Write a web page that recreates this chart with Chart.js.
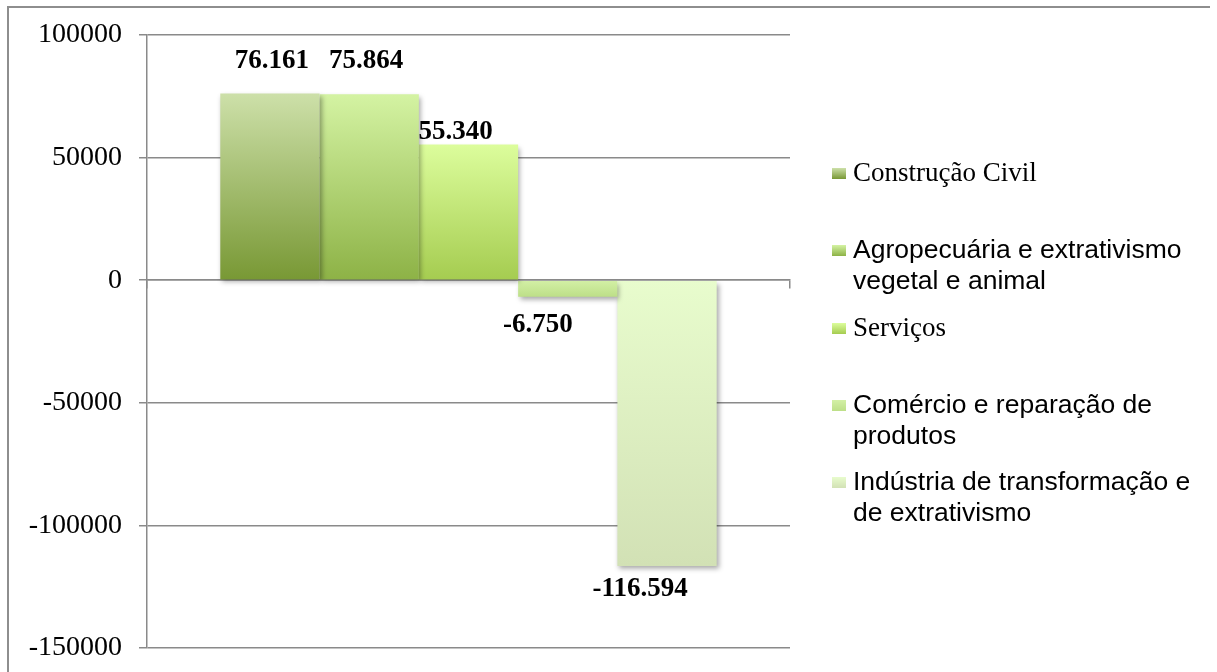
<!DOCTYPE html>
<html lang="pt-BR">
<head>
<meta charset="utf-8">
<title>Saldo de empregos por setor</title>
<script src="https://cdn.jsdelivr.net/npm/chart.js@4.4.1/dist/chart.umd.min.js"></script>
<style>
    html, body { margin: 0; padding: 0; background: #fff; overflow: hidden; }
    #wrap { position: relative; width: 1217px; height: 672px; overflow: hidden; }
    .frame-line { position: absolute; background: #8e8e8e; pointer-events: none; }
    #frame-top { left: 7px; top: 6px; width: 1203px; height: 2px; }
    #frame-left { left: 7px; top: 6px; width: 2px; height: 666px; }
    #chart { position: absolute; left: 0; top: 0; }
    #legend { position: absolute; left: 0; top: 0; }
    .legend-item { position: absolute; left: 832px; width: 360px; line-height: 31px; color: #000; }
    .legend-box { position: absolute; left: 0; top: 11px; width: 14px; height: 11px; }
    .legend-text { margin-left: 21px; }
</style>
</head>
<body>
<div id="wrap">
    <canvas id="chart" width="1217" height="672"></canvas>
    <div id="legend"></div>
    <div class="frame-line" id="frame-top"></div>
    <div class="frame-line" id="frame-left"></div>
</div>
<script>
// Saldo de empregos por setor de atividade
const categories = [''];
const seriesNames = [
    'Construção Civil',
    'Agropecuária e extrativismo vegetal e animal',
    'Serviços',
    'Comércio e reparação de produtos',
    'Indústria de transformação e de extrativismo'
];
const seriesValues = [76161, 75864, 55340, -6750, -116594];
const yMin = -150000;
const yMax = 100000;
const yStep = 50000;

// gradient colours per series (top, bottom)
const colorTop = ['#cde0a9', '#d4f3a3', '#dcfd9c', '#d3f0a6', '#e8fccd'];
const colorBottom = ['#789834', '#8db246', '#a5cc50', '#bddf88', '#d2e1b5'];
// legend fonts per series
const legendFonts = [
    '27px "Liberation Serif", serif',
    '26.5px "Liberation Sans", Arial, sans-serif',
    '27px "Liberation Serif", serif',
    '26.5px "Liberation Sans", Arial, sans-serif',
    '26.5px "Liberation Sans", Arial, sans-serif'
];
// value label nudges relative to the bar end (dx, dy)
const labelNudge = [[2, -32], [-3, -33], [-13, -12], [-30, 28], [-27, 23]];

const gridColor = '#8a8a8a';

function formatValue(v) {
    const s = Math.abs(v).toString().replace(/\B(?=(\d{3})+(?!\d))/g, '.');
    return (v < 0 ? '-' : '') + s;
}

function barGradient(i) {
    return (ctx) => {
        const chart = ctx.chart;
        if (!chart.chartArea) return colorTop[i];
        const y = chart.scales.y;
        const yEnd = y.getPixelForValue(seriesValues[i]);
        const y0 = y.getPixelForValue(0);
        const g = chart.ctx.createLinearGradient(0, Math.min(yEnd, y0), 0, Math.max(yEnd, y0));
        g.addColorStop(0, colorTop[i]);
        g.addColorStop(1, colorBottom[i]);
        return g;
    };
}

// soft drop shadow under the bars
const barShadow = {
    id: 'barShadow',
    beforeDatasetsDraw(chart) {
        const c = chart.ctx;
        c.save();
        c.shadowColor = 'rgba(0, 0, 0, 0.35)';
        c.shadowBlur = 5;
        c.shadowOffsetX = 2;
        c.shadowOffsetY = 3;
    },
    afterDatasetsDraw(chart) {
        chart.ctx.restore();
    }
};

// bold value labels near each bar
const valueLabels = {
    id: 'valueLabels',
    afterDraw(chart) {
        const c = chart.ctx;
        c.save();
        c.font = 'bold 27px "Liberation Serif", serif';
        c.fillStyle = '#000';
        c.textAlign = 'center';
        c.textBaseline = 'middle';
        chart.data.datasets.forEach((ds, i) => {
            const bar = chart.getDatasetMeta(i).data[0];
            if (!bar) return;
            const [dx, dy] = labelNudge[i];
            c.fillText(formatValue(ds.data[0]), bar.x + dx, bar.y + dy);
        });
        c.restore();
    }
};

const datasets = seriesNames.map((name, i) => ({
    label: name,
    data: [seriesValues[i]],
    backgroundColor: barGradient(i),
    borderWidth: 0,
    categoryPercentage: 0.772,
    barPercentage: 1
}));

new Chart(document.getElementById('chart'), {
    type: 'bar',
    data: { labels: categories, datasets },
    options: {
        responsive: false,
        animation: false,
        devicePixelRatio: 1,
        layout: { padding: { left: 0, top: 35, right: 427, bottom: 24 } },
        plugins: {
            legend: { display: false },
            tooltip: { enabled: false }
        },
        scales: {
            x: {
                position: { y: 0 },
                afterFit(scale) {
                    scale.height = 0;
                    scale.paddingTop = scale.paddingBottom = 0;
                },
                grid: {
                    drawOnChartArea: false,
                    drawTicks: true,
                    tickLength: 8,
                    color: gridColor,
                    lineWidth: 1.5
                },
                border: { display: true, color: gridColor, width: 1.5 },
                ticks: { display: false }
            },
            y: {
                min: yMin,
                max: yMax,
                afterFit(scale) {
                    scale.width = 147;
                    scale.paddingTop = scale.paddingBottom = 0;
                },
                ticks: {
                    stepSize: yStep,
                    padding: 17,
                    color: '#000',
                    font: { family: '"Liberation Serif", serif', size: 28 },
                    callback: (v) => String(v)
                },
                grid: {
                    color: gridColor,
                    lineWidth: 1.5,
                    drawTicks: true,
                    tickLength: 8
                },
                border: { display: true, color: gridColor, width: 1.5 }
            }
        }
    },
    plugins: [barShadow, valueLabels]
});

// legend on the right, one slot per series
const legendEl = document.getElementById('legend');
seriesNames.forEach((name, i) => {
    const item = document.createElement('div');
    item.className = 'legend-item';
    item.style.top = (174 + 77.3 * i - 17) + 'px';
    item.style.font = legendFonts[i];
    item.style.lineHeight = '31px';
    item.innerHTML = `
        <span class="legend-box" style="background: linear-gradient(${colorTop[i]}, ${colorBottom[i]});"></span>
        <div class="legend-text">${name}</div>
    `;
    legendEl.appendChild(item);
});
</script>
</body>
</html>
